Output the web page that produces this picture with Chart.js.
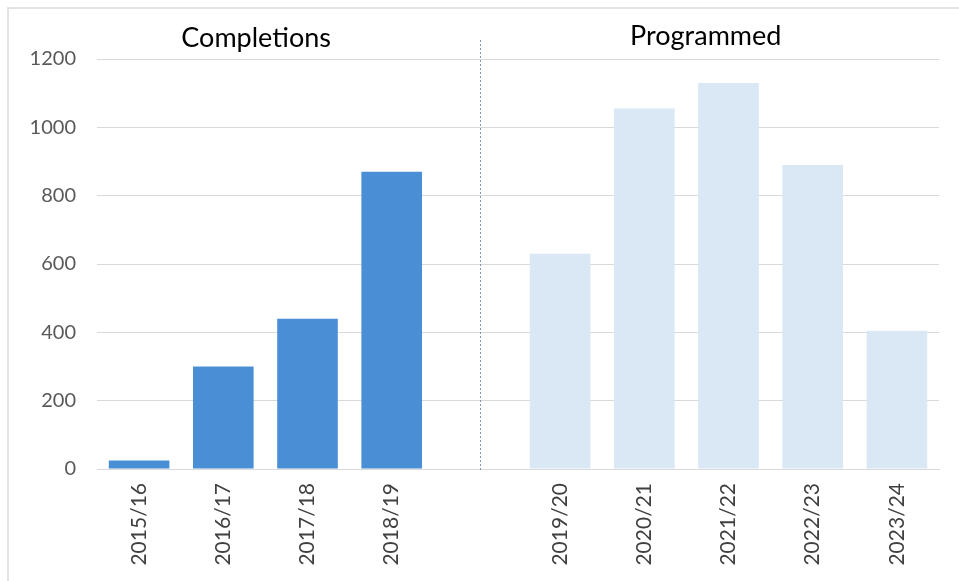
<!DOCTYPE html>
<html>
<head>
<meta charset="utf-8">
<script src="https://cdn.jsdelivr.net/npm/chart.js@4/dist/chart.umd.min.js"></script>
<style>
  html, body { margin: 0; padding: 0; background: #ffffff; }
  #wrap { position: relative; width: 959px; height: 581px; }
  #frame { position: absolute; left: 7px; top: 7px; width: 960px; height: 580px; border-left: 2px solid #e3e3e3; border-top: 2px solid #e3e3e3; box-sizing: border-box; pointer-events: none; }
</style>
</head>
<body>
<div id="wrap">
  <canvas id="c" width="959" height="581"></canvas>
  <div id="frame"></div>
</div>
<script>
const completionLabels = ['2015/16', '2016/17', '2017/18', '2018/19'];
const completionValues = [25, 300, 440, 870];
const programmedLabels = ['2019/20', '2020/21', '2021/22', '2022/23', '2023/24'];
const programmedValues = [630, 1055, 1130, 890, 405];
const yTicks = [0, 200, 400, 600, 800, 1000, 1200];
const sectionTitles = ['Completions', 'Programmed'];

const labels = [...completionLabels, '', ...programmedLabels];
const gapIndex = completionLabels.length;
const completionData = labels.map((l, i) => i < completionValues.length ? completionValues[i] : null);
const programmedData = labels.map((l, i) => i > gapIndex ? programmedValues[i - gapIndex - 1] : null);

const FONT = 'Lato, "Open Sans", "Liberation Sans", sans-serif';

const overlay = {
  id: 'overlay',
  afterDatasetsDraw(chart) {
    const { ctx, chartArea, scales } = chart;
    const x = scales.x;
    const w = chartArea.right - chartArea.left;
    const gx = Math.round(x.getPixelForValue(gapIndex) + 4) + 0.5;
    ctx.save();
    ctx.strokeStyle = '#7f97bb';
    ctx.lineWidth = 1;
    ctx.setLineDash([2, 2]);
    ctx.beginPath();
    ctx.moveTo(gx, 40);
    ctx.lineTo(gx, chartArea.bottom + 3);
    ctx.stroke();
    ctx.restore();
    ctx.save();
    ctx.fillStyle = '#000000';
    ctx.font = '27px ' + FONT;
    ctx.textAlign = 'center';
    ctx.textBaseline = 'middle';
    ctx.fillText(sectionTitles[0], chartArea.left + w * 0.189, 38);
    ctx.fillText(sectionTitles[1], chartArea.left + w * 0.723, 36);
    ctx.restore();
  }
};

new Chart(document.getElementById('c'), {
  type: 'bar',
  data: {
    labels: labels,
    datasets: [
      { label: sectionTitles[0], data: completionData, backgroundColor: '#4a8fd6', barPercentage: 0.72, categoryPercentage: 1 },
      { label: sectionTitles[1], data: programmedData, backgroundColor: '#dae7f5', barPercentage: 0.72, categoryPercentage: 1 }
    ]
  },
  options: {
    responsive: false,
    animation: false,
    devicePixelRatio: 1,
    layout: { padding: { top: 59, left: 0, right: 20, bottom: 0 } },
    plugins: { legend: { display: false }, tooltip: { enabled: false }, title: { display: false } },
    scales: {
      x: {
        stacked: true,
        grid: { display: false, drawTicks: false },
        border: { display: true, color: '#d9d9d9' },
        ticks: { color: '#404040', font: { family: FONT, size: 21 }, minRotation: 90, maxRotation: 90, padding: 14, autoSkip: false },
        afterFit(s) { s.height = 112; }
      },
      y: {
        stacked: true,
        min: 0, max: 1200,
        afterBuildTicks(s) { s.ticks = yTicks.map(v => ({ value: v })); },
        grid: { color: '#d9d9d9', drawTicks: false },
        border: { display: false },
        ticks: { color: '#595959', font: { family: FONT, size: 20 }, padding: 21, callback: (v) => String(v) },
        afterFit(s) { s.width = 97; }
      }
    }
  },
  plugins: [overlay]
});
</script>
</body>
</html>
